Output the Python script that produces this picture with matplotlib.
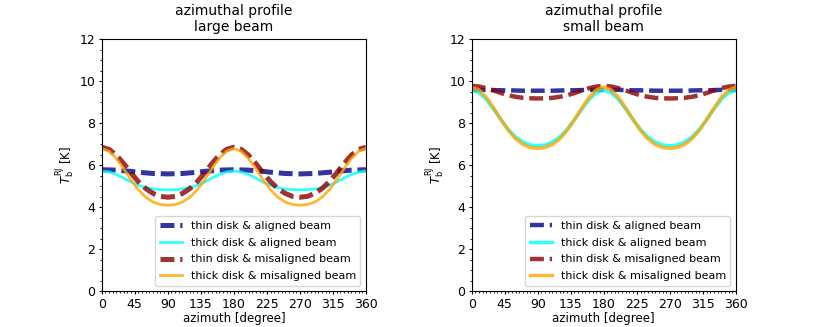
import numpy as np
import matplotlib.pyplot as plt
from matplotlib.ticker import MultipleLocator

# azimuth grid [deg]
azimuth = np.arange(0, 361, 10)

# large beam profiles [K]
large_thin_aligned = [5.79, 5.78, 5.77, 5.74, 5.71, 5.67, 5.64, 5.61, 5.60, 5.59,
                      5.60, 5.61, 5.64, 5.67, 5.71, 5.74, 5.77, 5.78, 5.79,
                      5.78, 5.77, 5.74, 5.71, 5.67, 5.64, 5.61, 5.60, 5.59,
                      5.60, 5.61, 5.64, 5.67, 5.71, 5.74, 5.77, 5.78, 5.79]
large_thick_aligned = [5.73, 5.68, 5.56, 5.39, 5.20, 5.05, 4.94, 4.87, 4.84, 4.83,
                       4.84, 4.87, 4.94, 5.05, 5.20, 5.39, 5.56, 5.68, 5.73,
                       5.68, 5.56, 5.39, 5.20, 5.05, 4.94, 4.87, 4.84, 4.83,
                       4.84, 4.87, 4.94, 5.05, 5.20, 5.39, 5.56, 5.68, 5.73]
large_thin_misaligned = [6.86, 6.76, 6.48, 6.08, 5.63, 5.22, 4.89, 4.66, 4.52, 4.48,
                         4.52, 4.66, 4.89, 5.22, 5.63, 6.08, 6.48, 6.76, 6.86,
                         6.76, 6.48, 6.08, 5.63, 5.22, 4.89, 4.66, 4.52, 4.48,
                         4.52, 4.66, 4.89, 5.22, 5.63, 6.08, 6.48, 6.76, 6.86]
large_thick_misaligned = [6.80, 6.67, 6.32, 5.83, 5.30, 4.83, 4.48, 4.25, 4.13, 4.10,
                          4.13, 4.25, 4.48, 4.83, 5.30, 5.83, 6.32, 6.67, 6.80,
                          6.67, 6.32, 5.83, 5.30, 4.83, 4.48, 4.25, 4.13, 4.10,
                          4.13, 4.25, 4.48, 4.83, 5.30, 5.83, 6.32, 6.67, 6.80]

# small beam profiles [K]
small_thin_aligned = [9.59, 9.59, 9.59, 9.58, 9.57, 9.57, 9.56, 9.55, 9.55, 9.55,
                      9.55, 9.55, 9.56, 9.57, 9.57, 9.58, 9.59, 9.59, 9.59,
                      9.59, 9.59, 9.58, 9.57, 9.57, 9.56, 9.55, 9.55, 9.55,
                      9.55, 9.55, 9.56, 9.57, 9.57, 9.58, 9.59, 9.59, 9.59]
small_thick_aligned = [9.57, 9.45, 9.13, 8.67, 8.17, 7.71, 7.35, 7.11, 6.97, 6.93,
                       6.97, 7.11, 7.35, 7.71, 8.17, 8.67, 9.13, 9.45, 9.57,
                       9.45, 9.13, 8.67, 8.17, 7.71, 7.35, 7.11, 6.97, 6.93,
                       6.97, 7.11, 7.35, 7.71, 8.17, 8.67, 9.13, 9.45, 9.57]
small_thin_misaligned = [9.78, 9.75, 9.67, 9.56, 9.44, 9.33, 9.26, 9.21, 9.19, 9.18,
                         9.19, 9.21, 9.26, 9.33, 9.44, 9.56, 9.67, 9.75, 9.78,
                         9.75, 9.67, 9.56, 9.44, 9.33, 9.26, 9.21, 9.19, 9.18,
                         9.19, 9.21, 9.26, 9.33, 9.44, 9.56, 9.67, 9.75, 9.78]
small_thick_misaligned = [9.72, 9.59, 9.23, 8.72, 8.17, 7.66, 7.26, 6.99, 6.85, 6.80,
                          6.85, 6.99, 7.26, 7.66, 8.17, 8.72, 9.23, 9.59, 9.72,
                          9.59, 9.23, 8.72, 8.17, 7.66, 7.26, 6.99, 6.85, 6.80,
                          6.85, 6.99, 7.26, 7.66, 8.17, 8.72, 9.23, 9.59, 9.72]

labels = ['thin disk & aligned beam', 'thick disk & aligned beam',
          'thin disk & misaligned beam', 'thick disk & misaligned beam']
titles = ['azimuthal profile\nlarge beam', 'azimuthal profile\nsmall beam']

fig = plt.figure(figsize=(8.17, 3.27), dpi=100)
axes = [fig.add_axes([0.1245, 0.109, 0.3235, 0.771]),
        fig.add_axes([0.5773, 0.109, 0.3235, 0.771])]

panels = [
    (large_thin_aligned, large_thick_aligned, large_thin_misaligned, large_thick_misaligned, 3.6, 2.0),
    (small_thin_aligned, small_thick_aligned, small_thin_misaligned, small_thick_misaligned, 3.2, 2.5),
]

for ax, title, (a, b, c, d, lw_dash, lw_solid) in zip(axes, titles, panels):
    dash = (10.0 / lw_dash, 4.2 / lw_dash)
    ax.plot(azimuth, a, '--', color='darkblue', alpha=0.8, lw=lw_dash, dashes=dash, label=labels[0])
    ax.plot(azimuth, b, '-', color='cyan', alpha=0.8, lw=lw_solid, label=labels[1])
    ax.plot(azimuth, c, '--', color='darkred', alpha=0.8, lw=lw_dash, dashes=dash, label=labels[2])
    ax.plot(azimuth, d, '-', color='orange', alpha=0.8, lw=lw_solid, label=labels[3])

    ax.set_xlim(0, 360)
    ax.set_ylim(0, 12)
    ax.xaxis.set_major_locator(MultipleLocator(45))
    ax.xaxis.set_minor_locator(MultipleLocator(5))
    ax.yaxis.set_major_locator(MultipleLocator(2))
    ax.yaxis.set_minor_locator(MultipleLocator(0.5))
    ax.tick_params(which='major', length=2.5, pad=2, labelsize=9)
    ax.tick_params(which='minor', length=1.5)
    ax.set_xlabel('azimuth [degree]', fontsize=8.5, labelpad=1)
    ax.set_ylabel(r'$T_\mathrm{b}^\mathrm{RJ}$ [K]', fontsize=8.5, labelpad=2)
    ax.set_title(title, fontsize=10)
    ax.legend(loc='lower right', fontsize=8, labelspacing=0.62)

fig.savefig('out.png', dpi=100)
